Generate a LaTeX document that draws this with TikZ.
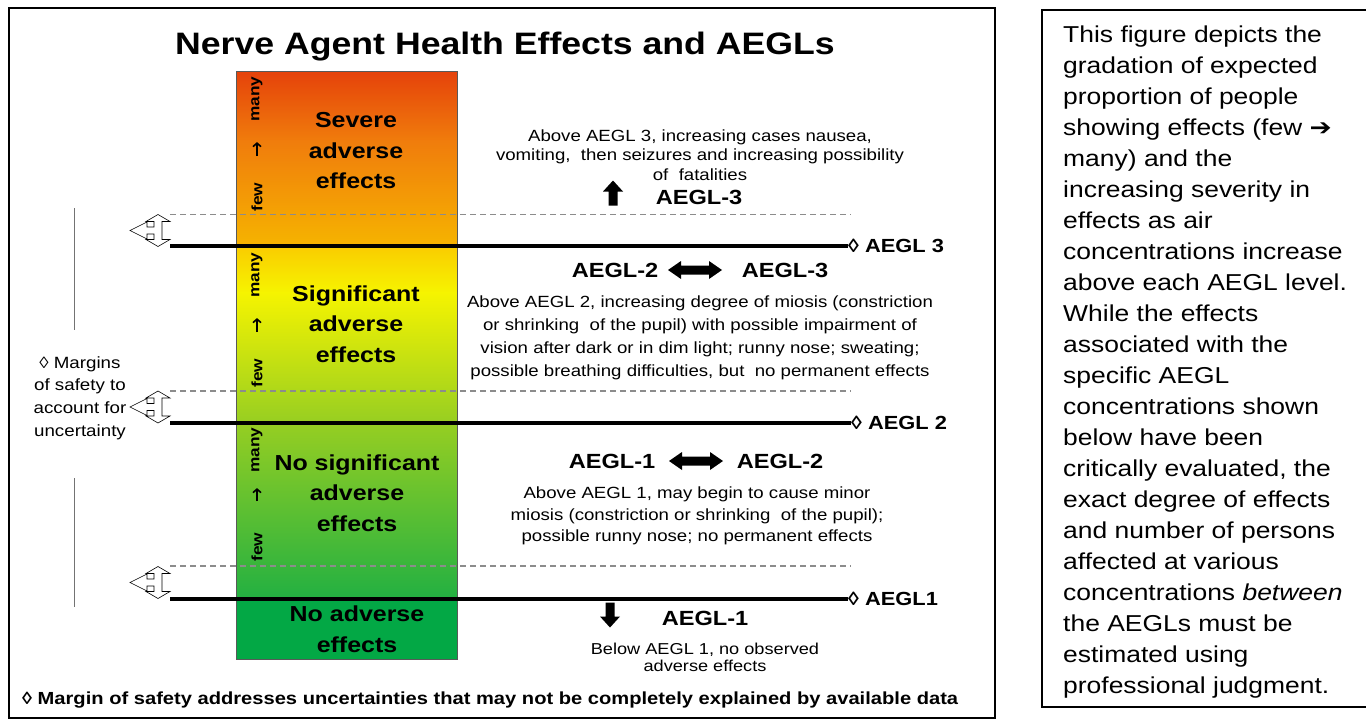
\documentclass[tikz,border=0pt]{standalone}
\usepackage{fontspec}
\setmainfont[FakeStretch=1.15]{Liberation Sans}
\newfontfamily\arrowfont[FakeStretch=1.15]{DejaVu Sans}
\usepackage{xcolor}
\usetikzlibrary{arrows.meta}

\definecolor{sevtop}{HTML}{E5420B}
\definecolor{sevmid}{HTML}{F07C0C}
\definecolor{sevlow}{HTML}{F6B400}
\definecolor{sigtop}{HTML}{FACC00}
\definecolor{sigmid}{HTML}{F6F400}
\definecolor{sigbot}{HTML}{96CE22}
\definecolor{nosig}{HTML}{22B042}
\definecolor{safe}{HTML}{03A845}

\begin{document}
\begin{tikzpicture}[x=1pt,y=-1pt,
    desc/.style={align=center,font=\fontsize{16.2}{19.5}\selectfont},
    bartext/.style={align=center,font=\bfseries\fontsize{21.7}{30.5}\selectfont},
    lvl/.style={font=\bfseries\fontsize{20.5}{24}\selectfont},
    tag/.style={anchor=west,inner sep=0pt,font=\bfseries\fontsize{19}{22}\selectfont},
    cnt/.style={rotate=90,font=\bfseries\fontsize{15}{17}\selectfont},
    fewmany/.style={-{Straight Barb[length=3.5pt,width=8pt]},line width=1.6pt,shorten >=17pt,shorten <=23pt},
    dashline/.style={black!45,line width=1.3pt,dash pattern=on 6pt off 4pt},
    aegl/.style={line width=3.3pt},
    margin/.pic={\draw[fill=white,line width=0.6pt] (0,-16) -- (12,-9) -- (4,-9) -- (4,9) -- (12,9) -- (0,16)
        -- (-12,9) -- (-4,9) -- (-4,3.5) -- (-11,3.5) -- (-11,8.5) -- (-28,0) -- (-11,-8.5) -- (-11,-3.5)
        -- (-4,-3.5) -- (-4,-9) -- (-12,-9) -- cycle;},
    uparrow/.pic={\fill (0,-12.5) -- (10,-1.5) -- (4.5,-1.5) -- (4.5,12.5) -- (-4.5,12.5) -- (-4.5,-1.5)
        -- (-10,-1.5) -- cycle;},
    dblarrow/.pic={\fill (-27,0) -- (-14,-9) -- (-14,-4.5) -- (14,-4.5) -- (14,-9) -- (27,0) -- (14,9)
        -- (14,4.5) -- (-14,4.5) -- (-14,9) -- cycle;}]
  \useasboundingbox (0,0) rectangle (1366,726);
  % Frames
  \draw[line width=1.4pt] (9,8) rectangle (995,718);
  \draw[line width=1.4pt] (1042,10) rectangle (1380,707);
  % Title
  \node[font=\bfseries\fontsize{31}{36}\selectfont] (title) at (505,47) {Nerve Agent Health Effects and AEGLs};
  % Colour bar
  \shade[top color=sevtop,bottom color=sevmid] (236,71) rectangle (457,141);
  \shade[top color=sevmid,bottom color=sevlow] (236,140) rectangle (457,247);
  \shade[top color=sigtop,bottom color=sigmid] (236,246) rectangle (457,293);
  \shade[top color=sigmid,bottom color=sigbot] (236,292) rectangle (457,424);
  \shade[top color=sigbot,bottom color=nosig] (236,423) rectangle (457,600);
  \fill[safe] (236,599) rectangle (457,659);
  \draw[black!65,line width=0.8pt] (236,71) rectangle (457,659);
  % Bar labels
  \node[bartext] (sev) at (356,151) {Severe\\adverse\\effects};
  \node[bartext] (sig) at (356,324) {Significant\\adverse\\effects};
  \node[bartext] (nosig) at (357,493) {No significant\\adverse\\effects};
  \node[bartext] (noadv) at (357,629) {No adverse\\effects};
  % few -> many
  \node[cnt] (many1) at (257,99) {many};
  \node[cnt] (few1) at (257,197) {few};
  \node[cnt] (many2) at (257,275) {many};
  \node[cnt] (few2) at (257,373) {few};
  \node[cnt] (many3) at (257,450) {many};
  \node[cnt] (few3) at (257,547) {few};
  \draw[fewmany] (few1) -- (many1);
  \draw[fewmany] (few2) -- (many2);
  \draw[fewmany,shorten >=12pt,shorten <=28pt] (few3) -- (many3);
  % Dashed margin lines
  \draw[dashline] (170,214.5) -- (851,214.5);
  \draw[dashline] (170,391) -- (851,391);
  \draw[dashline] (170,566) -- (851,566);
  % AEGL levels
  \node[tag] (t3) at (848,246) {◊ AEGL 3};
  \node[tag] (t2) at (851,423) {◊ AEGL 2};
  \node[tag] (t1) at (848,599) {◊ AEGL1};
  \coordinate (s3) at (170,246);
  \coordinate (s2) at (170,423);
  \coordinate (s1) at (170,599);
  \draw[aegl] (s3) -- (t3.west);
  \draw[aegl] (s2) -- (t2.west);
  \draw[aegl] (s1) -- (t1.west);
  % Margins of safety
  \pic at (158,230.5) {margin};
  \pic at (158,407) {margin};
  \pic at (158,582.5) {margin};
  \node[align=center,font=\fontsize{16.3}{22.7}\selectfont] (marg) at (80,398) {◊ Margins\\of safety to\\account for\\uncertainty};
  \draw[black!55,line width=0.8pt] (74,208) -- (74,330);
  \draw[black!55,line width=0.8pt] (74,478) -- (74,607);
  % Above AEGL 3
  \node[desc] (d3) at (700,155) {Above AEGL 3, increasing cases nausea,\\vomiting,\ \ then seizures and increasing possibility\\of\ \ fatalities};
  \pic at (613,193) {uparrow};
  \node[lvl] (a3) at (699,197) {AEGL-3};
  % AEGL-2 to AEGL-3
  \node[lvl] (a23l) at (615,270) {AEGL-2};
  \node[lvl] (a23r) at (785,270) {AEGL-3};
  \pic at (695,270) {dblarrow};
  \node[desc,font=\fontsize{16.2}{23}\selectfont] (d2) at (700,338) {Above AEGL 2, increasing degree of miosis (constriction\\or shrinking\ \ of the pupil) with possible impairment of\\vision after dark or in dim light; runny nose; sweating;\\possible breathing difficulties, but\ \ no permanent effects};
  % AEGL-1 to AEGL-2
  \node[lvl] (a12l) at (612,461) {AEGL-1};
  \node[lvl] (a12r) at (780,461) {AEGL-2};
  \pic at (696,461) {dblarrow};
  \node[desc,font=\fontsize{16.2}{21.5}\selectfont] (d1) at (697,516) {Above AEGL 1, may begin to cause minor\\miosis (constriction or shrinking\ \ of the pupil);\\possible runny nose; no permanent effects};
  % Below AEGL 1
  \pic[rotate=180] at (610,615) {uparrow};
  \node[lvl] (a1) at (705,618) {AEGL-1};
  \node[desc,font=\fontsize{15.8}{17}\selectfont] (d0) at (705,657) {Below AEGL 1, no observed\\adverse effects};
  % Note
  \node[anchor=west,inner sep=0pt,font=\bfseries\fontsize{17.5}{20}\selectfont] (note) at (22,700) {◊ Margin of safety addresses uncertainties that may not be completely explained by available data};
  % Side text
  \node[anchor=north west,align=left,inner sep=0pt,font=\fontsize{23}{31}\selectfont] (info) at (1063,26) {This figure depicts the\\gradation of expected\\proportion of people\\showing effects (few {\arrowfont ➔}\\many) and the\\increasing severity in\\effects as air\\concentrations increase\\above each AEGL level.\\While the effects\\associated with the\\specific AEGL\\concentrations shown\\below have been\\critically evaluated, the\\exact degree of effects\\and number of persons\\affected at various\\concentrations \textit{between}\\the AEGLs must be\\estimated using\\professional judgment.};
\end{tikzpicture}
\end{document}
